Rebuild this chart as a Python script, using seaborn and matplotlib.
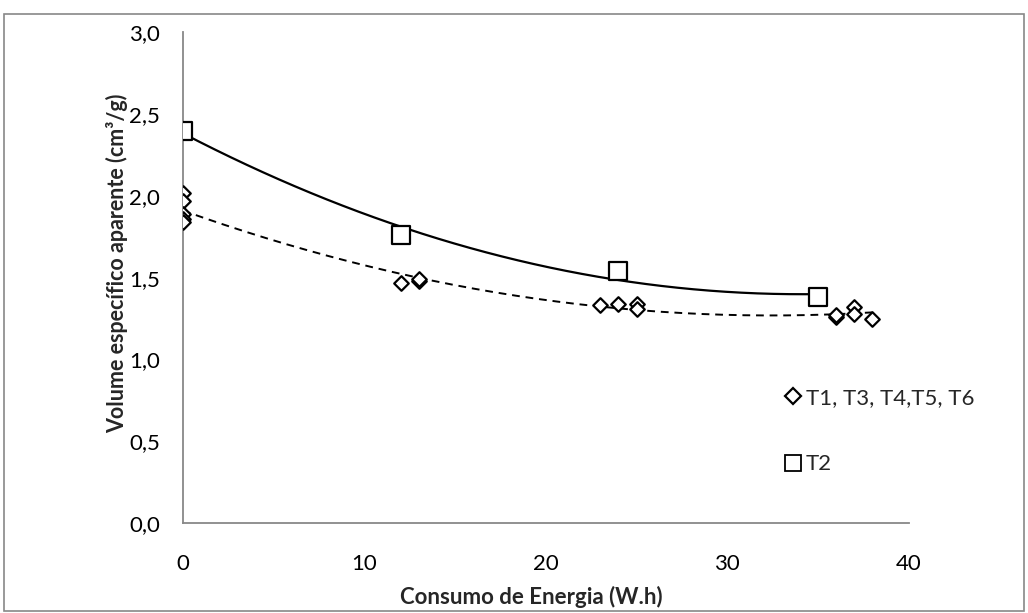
import numpy as np
import pandas as pd
import matplotlib
matplotlib.use("Agg")
import matplotlib.pyplot as plt
import seaborn as sns
from matplotlib.lines import Line2D
from matplotlib.patches import Rectangle
from matplotlib.ticker import FuncFormatter

# Data
diamond_x = [0, 0, 0, 0, 0, 12, 13, 13, 23, 24, 25, 25, 36, 36, 37, 37, 38]
diamond_y = [2.02, 1.97, 1.89, 1.86, 1.84, 1.47, 1.48, 1.49, 1.33, 1.34, 1.34, 1.31, 1.26, 1.27, 1.32, 1.28, 1.25]
square_x = [0, 12, 24, 35]
square_y = [2.40, 1.76, 1.54, 1.38]
label_diamond = "T1, T3, T4,T5, T6"
label_square = "T2"
xlabel = "Consumo de Energia (W.h)"
ylabel = "Volume específico aparente (cm³/g)"
x_ticks = [0, 10, 20, 30, 40]
y_ticks = [0.0, 0.5, 1.0, 1.5, 2.0, 2.5, 3.0]

sns.set_style("white")
plt.rcParams['font.family'] = ['Lato', 'DejaVu Sans']

fig = plt.figure(figsize=(10.28, 6.13), dpi=100)
ax = fig.add_axes([0.178, 0.147, 0.706, 0.800])

# Outer chart border
fig.patches.append(Rectangle((0.004, 0.004), 0.992, 0.973, transform=fig.transFigure,
                             fill=False, edgecolor='#888888', lw=1.2))

# Polynomial (order 2) trend lines
cd = np.polyfit(diamond_x, diamond_y, 2)
xd = np.linspace(min(diamond_x), max(diamond_x), 200)
cs = np.polyfit(square_x, square_y, 2)
xs = np.linspace(min(square_x), max(square_x), 200)
sns.lineplot(x=xd, y=np.polyval(cd, xd), ax=ax, color='black', lw=1.4,
             linestyle=(0, (4, 3)), legend=False)
sns.lineplot(x=xs, y=np.polyval(cs, xs), ax=ax, color='black', lw=1.6, legend=False)

df_d = pd.DataFrame({'x': diamond_x, 'y': diamond_y})
df_s = pd.DataFrame({'x': square_x, 'y': square_y})
sns.scatterplot(data=df_d, x='x', y='y', ax=ax, marker='D', s=55, facecolor='white',
                edgecolor='black', linewidth=1.6, zorder=5, legend=False)
sns.scatterplot(data=df_s, x='x', y='y', ax=ax, marker='s', s=150, facecolor='white',
                edgecolor='black', linewidth=1.6, zorder=5, legend=False)

ax.set_xlim(0, 40)
ax.set_ylim(0, 3.0)
ax.set_xticks(x_ticks)
ax.set_yticks(y_ticks)
ax.yaxis.set_major_formatter(FuncFormatter(lambda v, p: f"{v:.1f}".replace('.', ',')))
ax.xaxis.set_major_formatter(FuncFormatter(lambda v, p: f"{int(v)}"))

for s in ['top', 'right']:
    ax.spines[s].set_visible(False)
for s in ['left', 'bottom']:
    ax.spines[s].set_color('#888888')
    ax.spines[s].set_linewidth(1.3)
ax.tick_params(axis='both', which='major', direction='out', length=5.5, width=1.3,
               color='#888888', labelsize=16, labelcolor='black')
ax.tick_params(axis='x', pad=17)
ax.tick_params(axis='y', pad=11)

ax.set_xlabel(xlabel, fontsize=16, fontweight='bold')
ax.set_ylabel(ylabel, fontsize=15.5, fontweight='bold')
ax.xaxis.set_label_coords(0.48, -0.151)
ax.xaxis.label.set_va('center')
ax.yaxis.set_label_coords(-0.091, 0.53)
ax.yaxis.label.set_va('center')

handles = [
    Line2D([], [], marker='D', ls='none', markersize=8, markerfacecolor='white',
           markeredgecolor='black', markeredgewidth=1.6, label=label_diamond),
    Line2D([], [], marker='s', ls='none', markersize=11, markerfacecolor='white',
           markeredgecolor='black', markeredgewidth=1.3, label=label_square),
]
fig.legend(handles=handles, loc='upper left', bbox_to_anchor=(0.745, 0.40),
           frameon=False, fontsize=16, labelspacing=2.1, handlelength=0.6,
           handletextpad=0.3)

fig.savefig('out.png', dpi=100)
